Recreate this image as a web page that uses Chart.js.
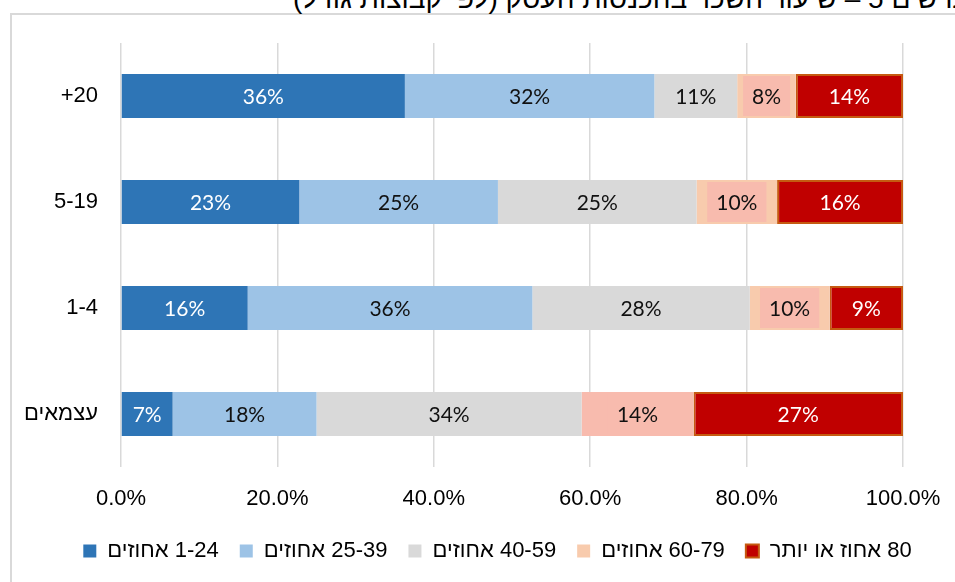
<!DOCTYPE html>
<html lang="he">
<head>
<meta charset="utf-8">
<script src="https://cdn.jsdelivr.net/npm/chart.js@4.4.1/dist/chart.umd.min.js"></script>
<style>
  html, body { margin: 0; padding: 0; background: #fff; overflow: hidden; }
  #wrap { position: relative; width: 955px; height: 582px; overflow: hidden; }
  #frame { position: absolute; left: 10px; top: 13px; width: 1000px; height: 600px;
           border-left: 2px solid #d9d9d9; border-top: 2px solid #d9d9d9; }
  #title { position: absolute; left: 293px; top: -15px; font: 28px "Liberation Sans", Arial, sans-serif;
           line-height: 28px; direction: rtl; white-space: nowrap; color: #000; }
  canvas { position: absolute; left: 0; top: 0; }
</style>
</head>
<body>
<div id="wrap">
  <div id="frame"></div>
  <div id="title">תרשים 5 – שיעור השכר בהכנסות העסק (לפי קבוצות גודל)</div>
  <canvas id="chart" width="955" height="582"></canvas>
</div>
<script>
// categories (size groups), top to bottom
const categories = ['20+', '5-19', '1-4', 'עצמאים'];

// share of each bucket, percent
const share1to24 = [36.3, 22.8, 16.2, 6.6];
const share25to39 = [31.9, 25.4, 36.4, 18.4];
const share40to59 = [10.6, 25.4, 27.8, 33.9];
const share60to79 = [7.5, 10.3, 10.2, 14.3];
const share80plus = [13.7, 16.1, 9.4, 26.8];

const seriesNames = ['1-24 אחוזים', '25-39 אחוזים', '40-59 אחוזים', '60-79 אחוזים', '80 אחוז או יותר'];
const xTicks = [0, 20, 40, 60, 80, 100];

const RLM = '\u200F';
const PEACH = '#F8CBAD';
const PINK = '#F8BBAE';

// draw the % labels on each segment (60-79 gets a pink box behind it)
const segLabels = {
    id: 'segLabels',
    afterLayout(chart) {
        // centre the legend row under the whole picture, like the original
        chart.legend.left += 41;
        chart.legend.right += 41;
    },
    afterDatasetsDraw(chart) {
        const ctx = chart.ctx;
        ctx.save();
        ctx.font = '21px Lato';
        ctx.textAlign = 'center';
        ctx.textBaseline = 'middle';
        chart.data.datasets.forEach((ds, i) => {
            const meta = chart.getDatasetMeta(i);
            meta.data.forEach((bar, j) => {
                const p = bar.getCenterPoint();
                const txt = Math.round(ds.data[j]) + '%';
                if (ds.labelBox) {
                    const w = ctx.measureText(txt).width + 18;
                    ctx.fillStyle = ds.labelBox;
                    ctx.fillRect(p.x - w / 2, p.y - 20, w, 40);
                }
                ctx.fillStyle = ds.labelColor;
                ctx.fillText(txt, p.x, p.y + 1);
            });
        });
        ctx.restore();
    }
};

new Chart(document.getElementById('chart'), {
    type: 'bar',
    data: {
        labels: categories,
        datasets: [
            { label: seriesNames[0], data: share1to24, backgroundColor: '#2E75B6', labelColor: '#fff' },
            { label: seriesNames[1], data: share25to39, backgroundColor: '#9DC3E6', labelColor: '#111' },
            { label: seriesNames[2], data: share40to59, backgroundColor: '#D9D9D9', labelColor: '#111' },
            { label: seriesNames[3], data: share60to79, labelColor: '#111', labelBox: PINK,
              backgroundColor: (c) => (c.dataIndex === 3 ? PINK : PEACH) },
            { label: seriesNames[4], data: share80plus, backgroundColor: '#C00000', labelColor: '#fff',
              borderColor: '#C55A11', borderWidth: 2, borderSkipped: false }
        ]
    },
    options: {
        indexAxis: 'y',
        responsive: false,
        animation: false,
        devicePixelRatio: 1,
        categoryPercentage: 1,
        barPercentage: 0.415,
        layout: { padding: { left: 10, right: 52, top: 43, bottom: 10 } },
        scales: {
            x: {
                stacked: true,
                min: 0,
                max: 100,
                afterBuildTicks: (s) => { s.ticks = xTicks.map(v => ({ value: v })); },
                afterFit: (s) => { s.height = 52; s.paddingLeft = 0; s.paddingRight = 0; },
                grid: { color: '#D9D9D9', lineWidth: 1.5, drawTicks: false },
                border: { display: false },
                ticks: {
                    padding: 19,
                    color: '#000',
                    font: { family: 'Liberation Sans', size: 22 },
                    callback: (v) => Number(v).toFixed(1) + '%'
                }
            },
            y: {
                stacked: true,
                afterFit: (s) => { s.width = 121 - 10; },
                grid: { display: false },
                border: { display: false },
                ticks: {
                    padding: 15,
                    color: '#000',
                    font: { family: 'Liberation Sans', size: 22 },
                    callback: function (v) { return RLM + this.getLabelForValue(v) + RLM; }
                }
            }
        },
        plugins: {
            tooltip: { enabled: false },
            legend: {
                position: 'bottom',
                textDirection: 'rtl',
                labels: {
                    boxWidth: 13,
                    boxHeight: 13,
                    padding: 21,
                    color: '#000',
                    font: { family: 'Liberation Sans', size: 22 }
                }
            }
        }
    },
    plugins: [segLabels]
});
</script>
</body>
</html>
